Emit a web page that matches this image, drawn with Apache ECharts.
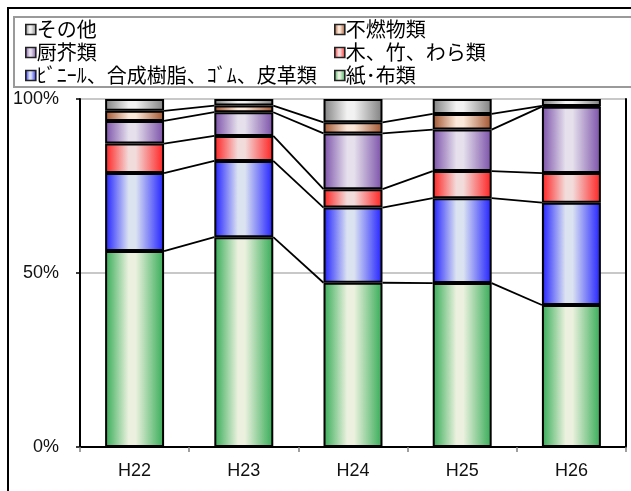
<!DOCTYPE html>
<html>
<head>
<meta charset="utf-8">
<script src="https://cdn.jsdelivr.net/npm/echarts@6/dist/echarts.min.js"></script>
<style>
  html, body { margin: 0; padding: 0; background: #fff; }
  #chart { width: 631px; height: 491px; }
</style>
</head>
<body>
<div id="chart"></div>
<script>
// Fiscal years (Heisei)
const categories = ['H22', 'H23', 'H24', 'H25', 'H26'];

// Composition of waste by type, percent of total (stacked bottom -> top)
const paperCloth   = [56.3, 60.3, 47.2, 47.1, 40.8]; // 紙･布類
const vinylRubber  = [22.4, 21.9, 21.6, 24.4, 29.4]; // ﾋﾞﾆｰﾙ、合成樹脂、ｺﾞﾑ、皮革類
const woodStraw    = [8.5, 7.2, 5.3, 7.8, 8.5];      // 木、竹、わら類
const kitchen      = [6.5, 6.8, 16.0, 11.9, 19.1];   // 厨芥類
const nonBurnable  = [2.9, 1.9, 3.2, 4.5, 0.2];      // 不燃物類
const others       = [3.4, 1.9, 6.7, 4.3, 2.0];      // その他

const yTicks = [0, 50, 100];

const names = {
  paper: '紙･布類',
  vinyl: 'ﾋﾞﾆｰﾙ、合成樹脂、ｺﾞﾑ、皮革類',
  wood: '木、竹、わら類',
  kitchen: '厨芥類',
  nonburn: '不燃物類',
  other: 'その他'
};

const stackOrder = [
  { name: names.paper,   data: paperCloth,  edge: '#34ab55', mid: '#ebf1de' },
  { name: names.vinyl,   data: vinylRubber, edge: '#1f1fff', mid: '#dbe3f1' },
  { name: names.wood,    data: woodStraw,   edge: '#ff1f1f', mid: '#f2dcdb' },
  { name: names.kitchen, data: kitchen,     edge: '#7a4fa8', mid: '#e5e0ec' },
  { name: names.nonburn, data: nonBurnable, edge: '#a0522d', mid: '#fde9d9' },
  { name: names.other,   data: others,      edge: '#7f7f7f', mid: '#f2f2f2' }
];

const BAR_RATIO = 0.54;

function barGradient(edge, mid) {
  return new echarts.graphic.LinearGradient(0, 0, 1, 0, [
    { offset: 0, color: edge },
    { offset: 0.4, color: mid },
    { offset: 0.52, color: mid },
    { offset: 1, color: edge }
  ]);
}

// cumulative tops of each segment (except the last which is always 100%)
const cumulative = [];
{
  const running = categories.map(() => 0);
  for (let k = 0; k < stackOrder.length - 1; k++) {
    stackOrder[k].data.forEach((v, i) => { running[i] += v; });
    cumulative.push(running.slice());
  }
}

const barSeries = stackOrder.map(s => ({
  name: s.name,
  type: 'bar',
  stack: 'total',
  barWidth: (BAR_RATIO * 100) + '%',
  data: s.data,
  itemStyle: {
    color: barGradient(s.edge, s.mid),
    borderColor: '#000',
    borderWidth: 2
  },
  emphasis: { disabled: true },
  z: 3
}));

// connector lines between neighbouring bars at each segment boundary
const connectorSeries = {
  type: 'custom',
  name: 'connectors',
  coordinateSystem: 'cartesian2d',
  silent: true,
  z: 2,
  encode: { x: 0, y: 1 },
  data: categories.slice(0, -1).map((c, i) => [i, 0]),
  renderItem: function (params, api) {
    const i = api.value(0);
    const half = api.size([1, 0])[0] * BAR_RATIO / 2;
    const children = cumulative.map(row => {
      const a = api.coord([i, row[i]]);
      const b = api.coord([i + 1, row[i + 1]]);
      return {
        type: 'line',
        shape: { x1: a[0] + half, y1: a[1], x2: b[0] - half, y2: b[1] },
        style: { stroke: '#000', lineWidth: 1.8 }
      };
    });
    return { type: 'group', children: children };
  }
};

const legendCommon = {
  orient: 'vertical',
  icon: 'rect',
  itemWidth: 10,
  itemHeight: 10,
  itemGap: 0,
  selectedMode: false,
  itemStyle: { borderColor: '#222', borderWidth: 1.6 },
  textStyle: {
    fontFamily: '"Noto Sans CJK JP", sans-serif',
    fontSize: 20,
    lineHeight: 23,
    color: '#000',
    padding: [0, 0, 0, -4]
  },
  padding: 0
};

const axisFont = '"Liberation Sans", Arial, sans-serif';

const chart = echarts.init(document.getElementById('chart'), null, { renderer: 'canvas' });
chart.setOption({
  animation: false,
  backgroundColor: '#fff',
  graphic: [
    {
      type: 'rect',
      shape: { x: 8, y: 8, width: 640, height: 500 },
      style: { fill: 'none', stroke: '#000', lineWidth: 2 },
      silent: true,
      z: 0
    },
    {
      type: 'rect',
      shape: { x: 14, y: 17, width: 640, height: 70 },
      style: { fill: 'none', stroke: '#9a9a9a', lineWidth: 2 },
      silent: true,
      z: 0
    }
  ],
  legend: [
    Object.assign({}, legendCommon, {
      left: 25, top: 18,
      data: [names.other, names.kitchen, names.vinyl]
    }),
    Object.assign({}, legendCommon, {
      left: 334, top: 18,
      data: [names.nonburn, names.wood, names.paper]
    })
  ],
  grid: { left: 80, right: 5, top: 99, bottom: 44, containLabel: false },
  xAxis: [
    {
      type: 'category',
      data: categories,
      axisLine: { lineStyle: { color: '#808080', width: 2 } },
      axisTick: { show: true, length: 5, lineStyle: { color: '#808080', width: 1.5 } },
      axisLabel: { color: '#111', fontSize: 18, fontFamily: axisFont, margin: 15 }
    },
    {
      type: 'category',
      position: 'top',
      data: categories,
      axisLine: { lineStyle: { color: '#000', width: 2 } },
      axisTick: { show: false },
      axisLabel: { show: false }
    }
  ],
  yAxis: [
    {
      type: 'value',
      min: yTicks[0],
      max: yTicks[yTicks.length - 1],
      interval: yTicks[1] - yTicks[0],
      axisLine: { show: true, lineStyle: { color: '#000', width: 2 } },
      axisTick: { show: true, length: 4, lineStyle: { color: '#000', width: 1.5 } },
      axisLabel: { formatter: '{value}%', color: '#111', fontSize: 18, fontFamily: axisFont, margin: 21 },
      splitLine: { show: true, lineStyle: { color: '#c8c8c8', width: 2 } }
    },
    {
      type: 'value',
      position: 'right',
      min: yTicks[0],
      max: yTicks[yTicks.length - 1],
      axisLine: { show: true, lineStyle: { color: '#000', width: 2 } },
      axisTick: { show: false },
      axisLabel: { show: false },
      splitLine: { show: false }
    }
  ],
  series: barSeries.concat([connectorSeries])
});
</script>
</body>
</html>
